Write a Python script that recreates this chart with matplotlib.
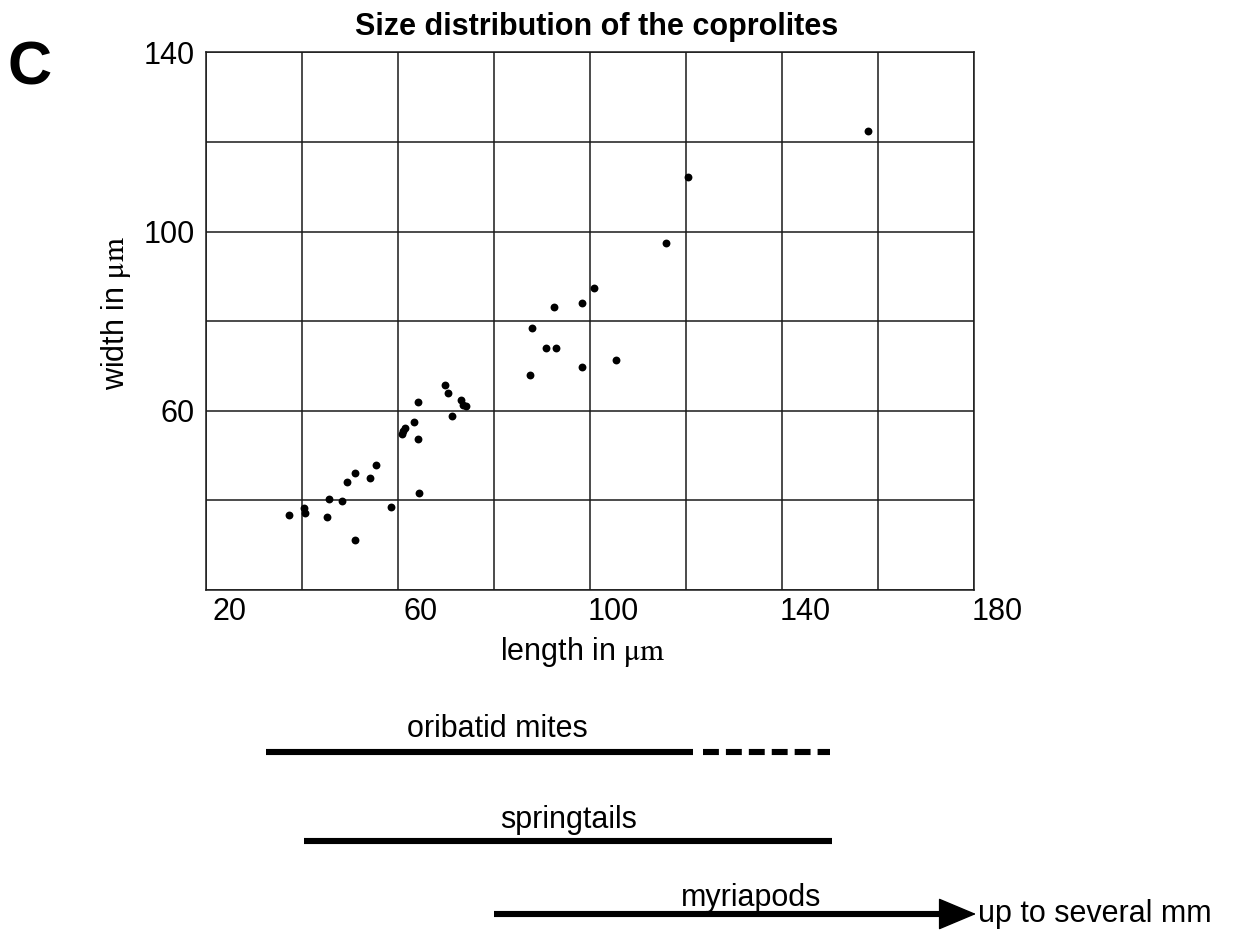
import matplotlib
matplotlib.use('Agg')
import matplotlib.pyplot as plt
import matplotlib.transforms as mtransforms

plt.rcParams['font.family'] = ['Liberation Sans', 'DejaVu Sans']
plt.rcParams['mathtext.fontset'] = 'stix'

# ---- data ----
length_um = [37.3, 40.5, 40.6, 45.2, 45.7, 48.3, 49.5, 51.0, 51.0, 54.3,
             55.5, 58.7, 60.8, 61.2, 61.5, 63.3, 64.2, 64.2, 64.4, 69.9,
             70.5, 73.2, 73.5, 74.2, 71.4, 100.8, 98.3, 92.5, 87.9, 90.8,
             93.0, 105.4, 98.3, 87.5, 158.0, 120.4, 115.8]
width_um = [36.7, 38.2, 37.1, 36.4, 40.3, 39.8, 44.1, 46.2, 31.2, 44.9,
            47.9, 38.5, 54.8, 55.5, 56.1, 57.5, 53.6, 61.9, 41.6, 65.7,
            63.9, 62.5, 61.3, 61.1, 58.8, 87.3, 84.0, 83.2, 78.5, 73.9,
            73.9, 71.4, 69.8, 68.0, 122.5, 112.2, 97.4]

x_ticks = [20, 60, 100, 140, 180]
y_ticks = [60, 100, 140]

groups = ['oribatid mites', 'springtails', 'myriapods']
range_start = [32.5, 40.5, 80.0]
range_end = [121.5, 150.5, 180.0]
dashed_start = [123.5, None, None]
dashed_end = [150.0, None, None]

# ---- figure ----
W, H = 1234, 938
fig = plt.figure(figsize=(W / 100, H / 100), dpi=100)
FS = 22

ax_l, ax_r, ax_t, ax_b = 205.7, 973.7, 52.3, 590.0
ax = fig.add_axes([ax_l / W, 1 - ax_b / H, (ax_r - ax_l) / W, (ax_b - ax_t) / H])
ax.set_xlim(20, 180)
ax.set_ylim(20, 140)
ax.set_xticks(range(20, 181, 20), minor=True)
ax.set_yticks(range(20, 141, 20), minor=True)
ax.set_xticks(x_ticks)
ax.set_yticks(y_ticks)
ax.set_xticklabels([str(v) for v in x_ticks])
ax.set_yticklabels([str(v) for v in y_ticks])
ax.grid(True, which='both', color='#1a1a1a', lw=1.1)
ax.set_axisbelow(True)
for s in ax.spines.values():
    s.set_color('#1a1a1a')
    s.set_linewidth(1.1)
ax.tick_params(which='both', length=0)
ax.tick_params(axis='x', labelsize=FS, pad=5)
ax.tick_params(axis='y', labelsize=FS, pad=8)
offset = mtransforms.ScaledTranslation(23.3 / 100, 0, fig.dpi_scale_trans)
for lab in ax.get_xticklabels():
    lab.set_transform(lab.get_transform() + offset)

ax.scatter(length_um, width_um, s=32, color='black', zorder=3, linewidths=0)

fig.text(597 / W, 1 - 27 / H, 'Size distribution of the coprolites',
         ha='center', va='center', fontsize=22, fontweight='bold')
fig.text(30 / W, 1 - 69 / H, 'C', ha='center', va='center',
         fontsize=44, fontweight='bold')
fig.text(116 / W, 1 - 313 / H, r'width in $\mathrm{\mu m}$', rotation=90,
         ha='center', va='center', fontsize=FS)
fig.text(583 / W, 1 - 652 / H, r'length in $\mathrm{\mu m}$',
         ha='center', va='center', fontsize=FS)

# ---- size ranges of the candidate producers ----
ax2 = fig.add_axes([ax_l / W, 0, (ax_r - ax_l) / W, 238 / H])
ax2.set_xlim(20, 180)
ax2.set_ylim(938, 700)
ax2.axis('off')

row_y = [752, 841, 914]
label_xy = [(80.7, 729), (95.5, 820), (133.6, 898)]
bar_lw = 4.4
for i, g in enumerate(groups):
    y = row_y[i]
    if i < 2:
        ax2.plot([range_start[i], range_end[i]], [y, y], color='black',
                 lw=bar_lw, solid_capstyle='butt', clip_on=False)
    else:
        ax2.plot([range_start[i], range_end[i] - 6], [y, y], color='black',
                 lw=bar_lw, solid_capstyle='butt', clip_on=False)
        ax2.annotate('', xy=(range_end[i] + 0.5, y), xytext=(range_end[i] - 8, y),
                     arrowprops=dict(arrowstyle='-|>,head_length=2.5,head_width=1.05',
                                     mutation_scale=10, lw=1, color='black',
                                     shrinkA=0, shrinkB=0),
                     annotation_clip=False)
        ax2.text(range_end[i] + 0.8, y, 'up to several mm', ha='left',
                 va='center', fontsize=FS, clip_on=False)
    if dashed_start[i] is not None:
        ax2.plot([dashed_start[i], dashed_end[i]], [y, y], color='black',
                 lw=bar_lw, linestyle=(0, (2.6, 1.15)), dash_capstyle='butt',
                 clip_on=False)
    ax2.text(label_xy[i][0], label_xy[i][1], g, ha='center', va='center',
             fontsize=FS)

fig.savefig('out.png', dpi=100)
